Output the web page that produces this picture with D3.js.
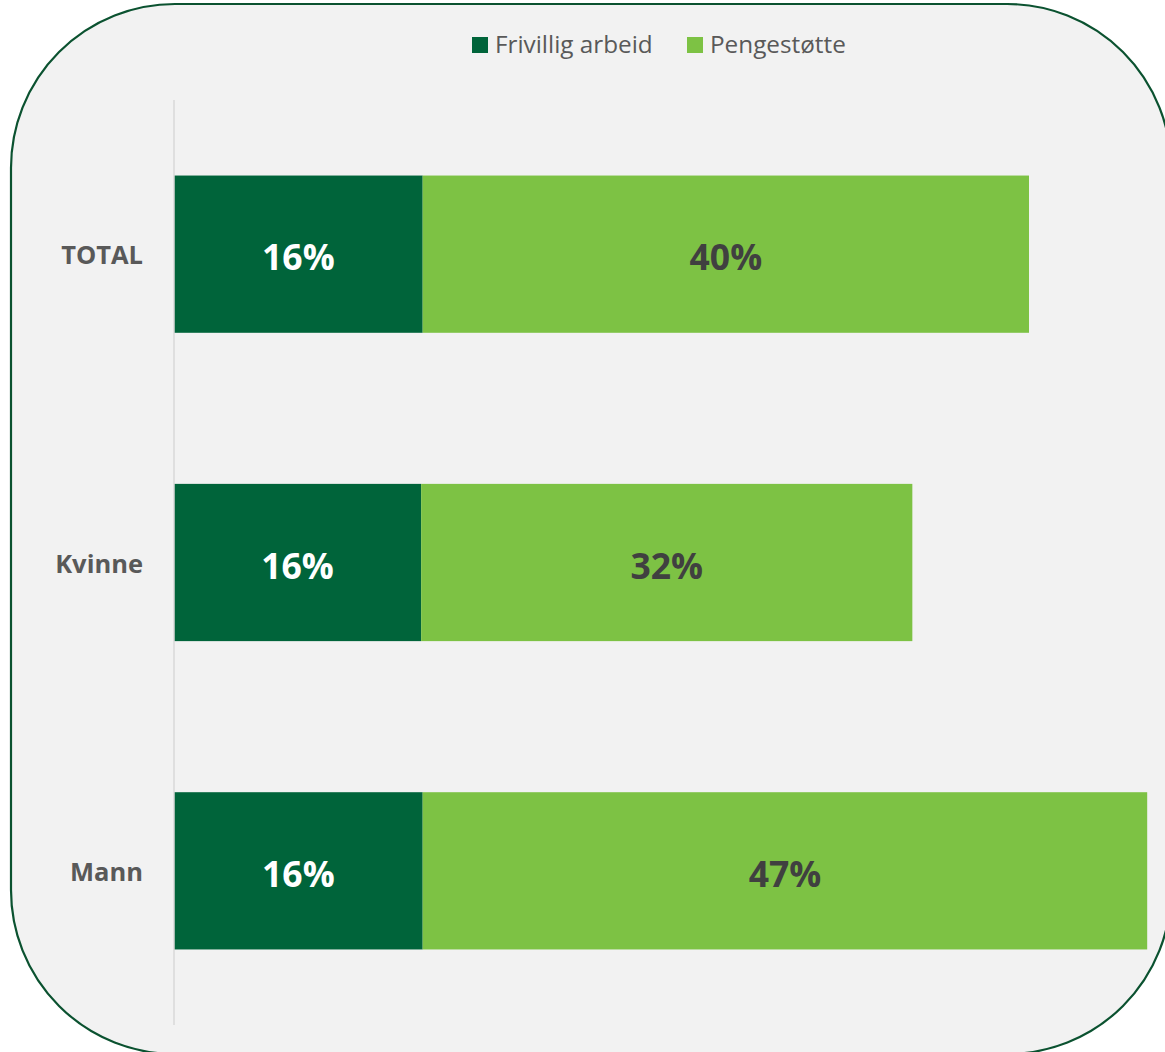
<!DOCTYPE html>
<html><head><meta charset="utf-8">
<script src="https://cdn.jsdelivr.net/npm/d3@7"></script>
<style>html,body{margin:0;padding:0;background:#fff;}svg{display:block;}</style>
</head><body>
<script>
const categories = ["TOTAL", "Kvinne", "Mann"];
const seriesNames = ["Frivillig arbeid", "Pengestøtte"];
const frivillig = [16.2, 16.1, 16.2];
const pengestotte = [39.5, 32.0, 47.2];
const frivilligLabels = ["16%", "16%", "16%"];
const pengestotteLabels = ["40%", "32%", "47%"];
const colors = ["#00643a", "#7dc244"];
const labelColors = ["#ffffff", "#404040"];

const W = 1165, H = 1052;
const svg = d3.select("body").append("svg").attr("width", W).attr("height", H);

svg.append("rect").attr("x", 11).attr("y", 4).attr("width", 1160).attr("height", 1050)
  .attr("rx", 164).attr("ry", 164).attr("fill", "#f2f2f2").attr("stroke", "#0b5230").attr("stroke-width", 2.2);

const x = d3.scaleLinear().domain([0, 100]).range([174, 174 + 1535]);
const y = d3.scaleBand().domain(categories).range([100, 1025]).paddingInner(0.49).paddingOuter(0.245);

const rows = categories.map((c, i) => ({cat: c, vals: [frivillig[i], pengestotte[i]], labels: [frivilligLabels[i], pengestotteLabels[i]]}));

rows.forEach(r => {
  let acc = 0;
  r.vals.forEach((v, k) => {
    const x0 = x(acc), x1 = x(acc + v);
    svg.append("rect").attr("x", x0).attr("y", y(r.cat)).attr("width", x1 - x0).attr("height", y.bandwidth())
      .attr("fill", colors[k]);
    svg.append("text").attr("x", (x0 + x1) / 2).attr("y", y(r.cat) + y.bandwidth() / 2 + 2)
      .attr("text-anchor", "middle").attr("dominant-baseline", "central")
      .attr("font-family", "'Open Sans', sans-serif").attr("font-weight", 700).attr("font-size", 35.5)
      .attr("fill", labelColors[k]).text(r.labels[k]);
    acc += v;
  });
});

// axis line
svg.append("line").attr("x1", 174).attr("x2", 174).attr("y1", 100).attr("y2", 1025)
  .attr("stroke", "#d9d9d9").attr("stroke-width", 1.5);

const yAxis = svg.append("g").attr("transform", "translate(174,0)")
  .call(d3.axisLeft(y).tickSize(0).tickPadding(31));
yAxis.select(".domain").remove();
yAxis.selectAll("text").attr("font-family", "'Open Sans', sans-serif").attr("font-weight", 700)
  .attr("font-size", 25.5).attr("fill", "#595959").attr("dy", "0.4em");

// legend
const legend = svg.append("g");
const legendX = [472, 687];
seriesNames.forEach((n, k) => {
  legend.append("rect").attr("x", legendX[k]).attr("y", 37).attr("width", 16).attr("height", 16).attr("fill", colors[k]);
  legend.append("text").attr("x", legendX[k] + 23).attr("y", 43.5).attr("dominant-baseline", "central")
    .attr("font-family", "'Open Sans', sans-serif").attr("font-size", 24.3).attr("fill", "#595959").text(n);
});
</script>
</body></html>
